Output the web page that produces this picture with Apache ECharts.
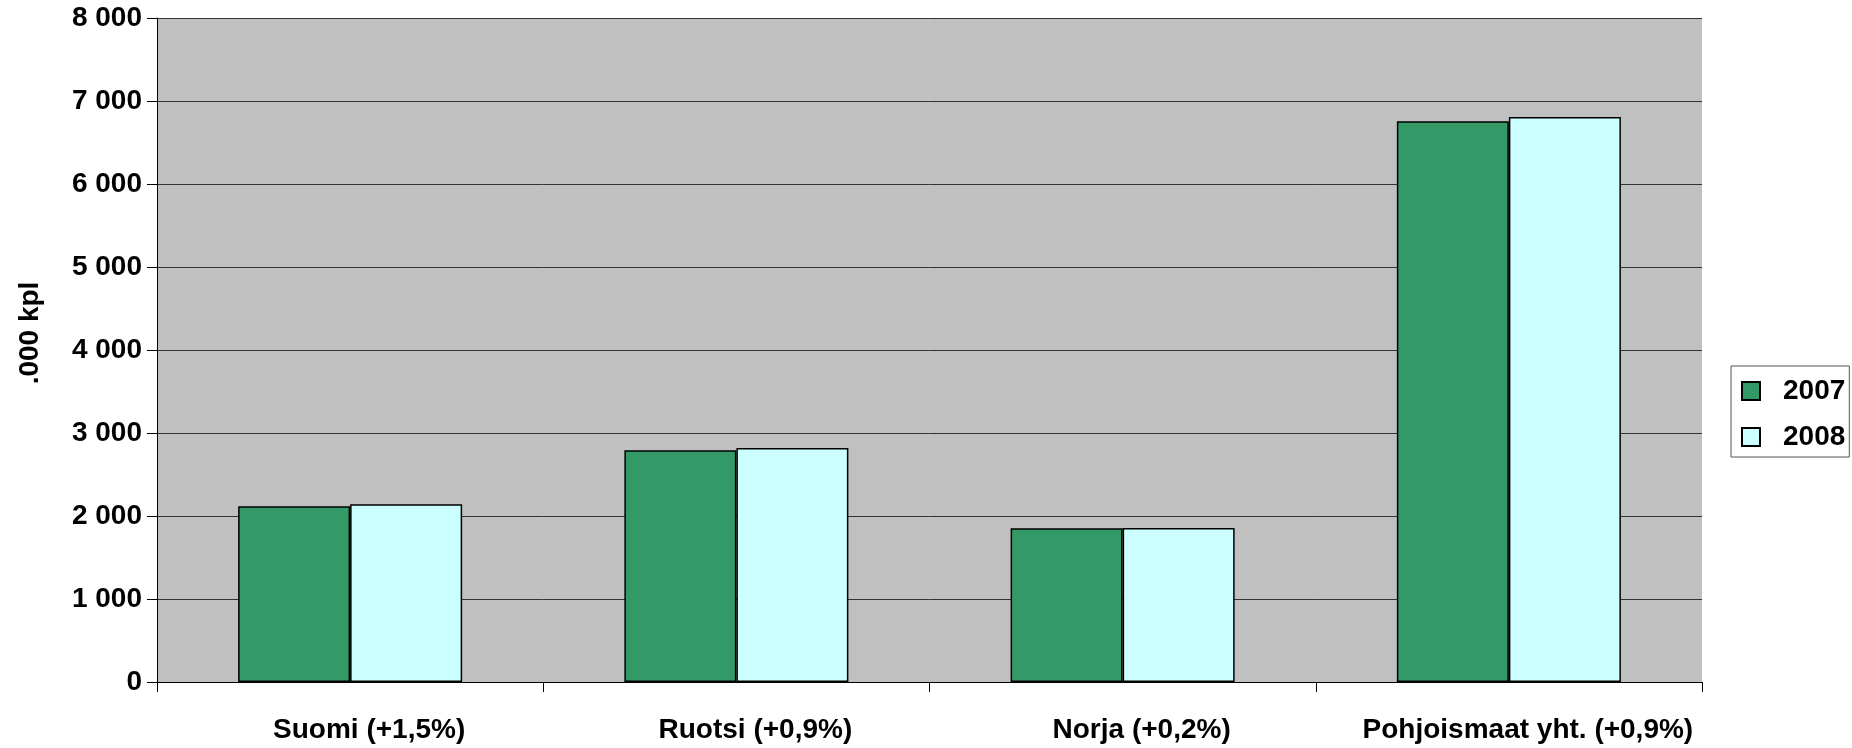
<!DOCTYPE html>
<html>
<head>
<meta charset="utf-8">
<title>Pohjoismaat</title>
<script src="https://cdn.jsdelivr.net/npm/echarts@6/dist/echarts.min.js"></script>
<style>
  html, body { margin: 0; padding: 0; background: #ffffff; }
  #chart { width: 1852px; height: 748px; }
</style>
</head>
<body>
<div id="chart"></div>
<script>
// Categories and yearly values (thousands of units)
const categories = ['Suomi (+1,5%)', 'Ruotsi (+0,9%)', 'Norja (+0,2%)', 'Pohjoismaat yht. (+0,9%)'];
const values2007 = [2117, 2792, 1852, 6755];
const values2008 = [2141, 2819, 1855, 6807];
const seriesNames = ['2007', '2008'];
const yTicks = { min: 0, max: 8000, step: 1000 };
const yAxisTitle = '.000 kpl';

const FONT = '"Liberation Sans", Arial, sans-serif';

// "8000" -> "8 000"
function thousands(v) {
  return String(v).replace(/\B(?=(\d{3})+(?!\d))/g, ' ');
}

const chart = echarts.init(document.getElementById('chart'), null, { renderer: 'canvas' });

chart.setOption({
  animation: false,
  backgroundColor: '#ffffff',
  textStyle: { fontFamily: FONT },
  grid: {
    left: 157, right: 150, top: 18, bottom: 66,
    containLabel: false,
    outerBoundsMode: 'none',
    show: true, backgroundColor: '#c0c0c0', borderWidth: 0
  },
  legend: {
    orient: 'vertical',
    left: 1731, top: 366,
    data: seriesNames,
    icon: 'rect',
    itemWidth: 18, itemHeight: 18, itemGap: 18,
    backgroundColor: '#ffffff',
    borderColor: '#555555', borderWidth: 1,
    padding: [11, 4, 6, 10],
    textStyle: {
      fontFamily: FONT, fontWeight: 'bold', fontSize: 28, color: '#000000',
      lineHeight: 28, padding: [0, 0, 0, 18]
    }
  },
  xAxis: {
    type: 'category',
    data: categories,
    axisLine: { show: true, lineStyle: { color: '#000000', width: 1 } },
    axisTick: { show: true, length: 10, lineStyle: { color: '#000000', width: 1 } },
    axisLabel: {
      interval: 0, margin: 34,
      fontFamily: FONT, fontWeight: 'bold', fontSize: 28, color: '#000000',
      lineHeight: 28, padding: [0, 0, 0, 38]
    },
    splitLine: { show: false }
  },
  yAxis: {
    type: 'value',
    min: yTicks.min, max: yTicks.max, interval: yTicks.step,
    name: yAxisTitle,
    nameLocation: 'middle',
    nameGap: 113,
    nameRotate: 90,
    nameTextStyle: { fontFamily: FONT, fontWeight: 'bold', fontSize: 28, color: '#000000', padding: [0, 0, 0, 34] },
    axisLine: { show: true, lineStyle: { color: '#000000', width: 1 } },
    axisTick: { show: true, length: 10, lineStyle: { color: '#000000', width: 1 } },
    axisLabel: {
      margin: 15,
      fontFamily: FONT, fontWeight: 'bold', fontSize: 28, color: '#000000',
      formatter: thousands
    },
    splitLine: { show: true, lineStyle: { color: '#333333', width: 1 } }
  },
  series: [
    {
      name: seriesNames[0], type: 'bar', data: values2007,
      barGap: '0%', barCategoryGap: '42%',
      itemStyle: { color: '#339966', borderColor: '#000000', borderWidth: 1.5 }
    },
    {
      name: seriesNames[1], type: 'bar', data: values2008,
      barGap: '0%', barCategoryGap: '42%',
      itemStyle: { color: '#ccffff', borderColor: '#000000', borderWidth: 1.5 }
    }
  ]
});
</script>
</body>
</html>
